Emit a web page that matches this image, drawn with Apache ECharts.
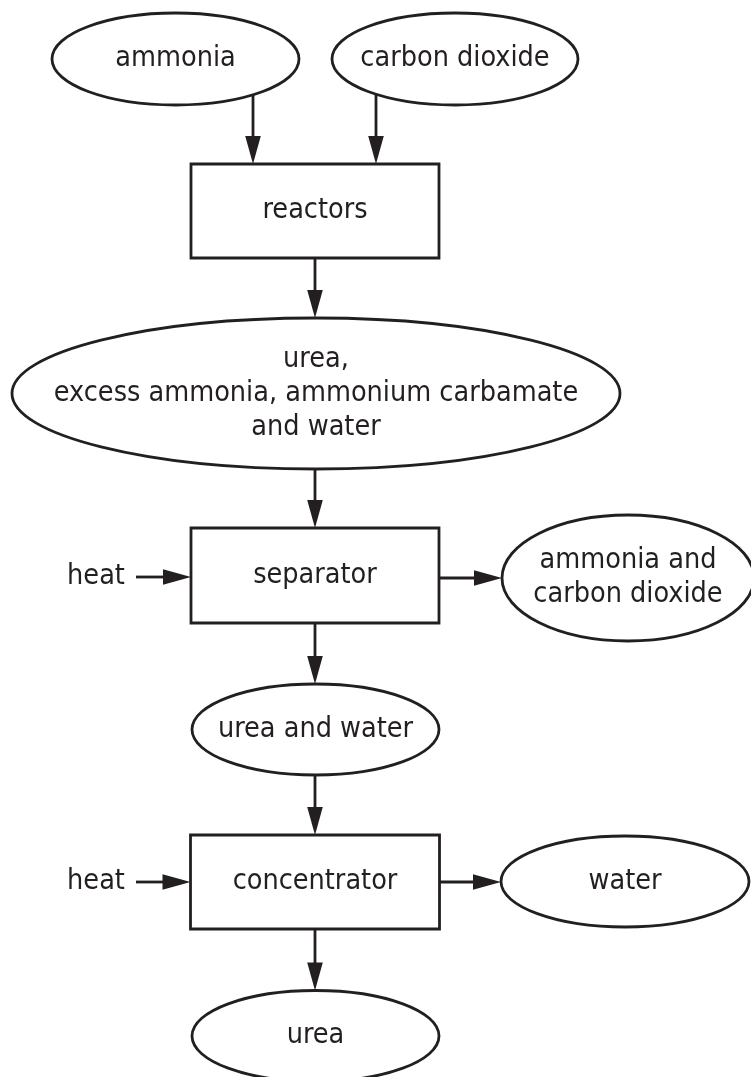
<!DOCTYPE html>
<html>
<head>
<meta charset="utf-8">
<script src="https://cdn.jsdelivr.net/npm/echarts@6/dist/echarts.min.js"></script>
<style>
html, body { margin: 0; padding: 0; background: #fff; }
#main { width: 751px; height: 1077px; }
</style>
</head>
<body>
<div id="main"></div>
<script>
// flow chart content
var nodeNames = ['ammonia', 'carbon dioxide', 'reactors',
    'urea,\nexcess ammonia, ammonium carbamate\nand water',
    'heat', 'separator', 'ammonia and\ncarbon dioxide', 'urea and water',
    'heat', 'concentrator', 'water', 'urea'];
var nodeKinds = ['ellipse', 'ellipse', 'box', 'ellipse', 'label', 'box', 'ellipse',
    'ellipse', 'label', 'box', 'ellipse', 'ellipse'];
var linkFrom = [0, 1, 2, 3, 4, 5, 5, 7, 8, 9, 9];
var linkTo   = [2, 2, 3, 5, 5, 6, 7, 9, 9, 10, 11];
var linkDir  = ['down', 'down', 'down', 'down', 'right', 'right', 'down', 'down', 'right', 'right', 'down'];

// layout, in canvas pixels
var nodeX     = [175.5, 455, 315, 316, 96, 315, 628, 315.5, 96, 315, 625, 315.5];
var nodeY     = [59, 59, 211, 393.5, 577, 575.5, 578, 729.5, 882, 882, 881.5, 1036];
var nodeHalfW = [123.5, 123, 124, 304, 40, 124, 126, 123.5, 40, 124.5, 124, 123.5];
var nodeHalfH = [46, 46, 47, 75.5, 14, 47.5, 63, 45.5, 14, 47, 45.5, 45.5];
var linkLane  = [253, 376, 315, 315, 577, 578, 315, 315, 882, 882, 315];

var ink = '#231f20';
var font = '28.5px "DejaVu Sans Condensed", "DejaVu Sans"';

function edgeBottom(i, x) {
    if (nodeKinds[i] !== 'ellipse') return nodeY[i] + nodeHalfH[i];
    var d = (x - nodeX[i]) / nodeHalfW[i];
    return nodeY[i] + nodeHalfH[i] * Math.sqrt(Math.max(0, 1 - d * d));
}
function edgeTop(i, x) {
    if (nodeKinds[i] !== 'ellipse') return nodeY[i] - nodeHalfH[i];
    var d = (x - nodeX[i]) / nodeHalfW[i];
    return nodeY[i] - nodeHalfH[i] * Math.sqrt(Math.max(0, 1 - d * d));
}
function edgeRight(i, y) {
    if (nodeKinds[i] !== 'ellipse') return nodeX[i] + nodeHalfW[i];
    var d = (y - nodeY[i]) / nodeHalfH[i];
    return nodeX[i] + nodeHalfW[i] * Math.sqrt(Math.max(0, 1 - d * d));
}
function edgeLeft(i, y) {
    if (nodeKinds[i] !== 'ellipse') return nodeX[i] - nodeHalfW[i];
    var d = (y - nodeY[i]) / nodeHalfH[i];
    return nodeX[i] - nodeHalfW[i] * Math.sqrt(Math.max(0, 1 - d * d));
}

var nodeData = nodeNames.map(function (n, i) {
    return [nodeX[i], nodeY[i], nodeHalfW[i], nodeHalfH[i]];
});
var linkData = linkFrom.map(function (f, k) {
    var t = linkTo[k], lane = linkLane[k];
    if (linkDir[k] === 'down') return [lane, edgeBottom(f, lane), lane, edgeTop(t, lane)];
    return [edgeRight(f, lane), lane, edgeLeft(t, lane), lane];
});

function renderNode(params, api) {
    var i = params.dataIndex;
    var c = api.coord([api.value(0), api.value(1)]);
    var s = api.size([api.value(2), api.value(3)]);
    var w = Math.abs(s[0]), h = Math.abs(s[1]);
    var kids = [];
    var line = { fill: '#fff', stroke: ink, lineWidth: 2.8 };
    if (nodeKinds[i] === 'ellipse') {
        kids.push({ type: 'ellipse', shape: { cx: c[0], cy: c[1], rx: w, ry: h }, style: line });
    } else if (nodeKinds[i] === 'box') {
        kids.push({ type: 'rect', shape: { x: c[0] - w, y: c[1] - h, width: 2 * w, height: 2 * h }, style: line });
    }
    kids.push({
        type: 'text',
        style: {
            text: nodeNames[i], x: c[0], y: c[1],
            align: 'center', verticalAlign: 'middle',
            font: font, lineHeight: 34, fill: ink
        }
    });
    return { type: 'group', children: kids };
}

function renderLink(params, api) {
    var a = api.coord([api.value(0), api.value(1)]);
    var b = api.coord([api.value(2), api.value(3)]);
    var dx = b[0] - a[0], dy = b[1] - a[1];
    var len = Math.sqrt(dx * dx + dy * dy);
    var ux = dx / len, uy = dy / len;
    var head = 28, half = 7.8;
    var bx = b[0] - ux * head, by = b[1] - uy * head;
    return {
        type: 'group',
        children: [
            { type: 'line', shape: { x1: a[0], y1: a[1], x2: bx + ux * 2, y2: by + uy * 2 },
              style: { stroke: ink, lineWidth: 2.8 } },
            { type: 'polygon',
              shape: { points: [[b[0], b[1]], [bx - uy * half, by + ux * half], [bx + uy * half, by - ux * half]] },
              style: { fill: ink } }
        ]
    };
}

var chart = echarts.init(document.getElementById('main'));
option = {
    animation: false,
    backgroundColor: '#fff',
    grid: { left: 0, right: 0, top: 0, bottom: 0 },
    xAxis: { type: 'value', min: 0, max: 751, show: false },
    yAxis: { type: 'value', min: 0, max: 1077, inverse: true, show: false },
    series: [
        {
            name: 'links',
            type: 'custom',
            renderItem: renderLink,
            encode: { x: [0, 2], y: [1, 3] },
            data: linkData,
            z: 1
        },
        {
            name: 'nodes',
            type: 'custom',
            renderItem: renderNode,
            encode: { x: 0, y: 1 },
            data: nodeData,
            z: 2
        }
    ]
};
chart.setOption(option);
</script>
</body>
</html>
